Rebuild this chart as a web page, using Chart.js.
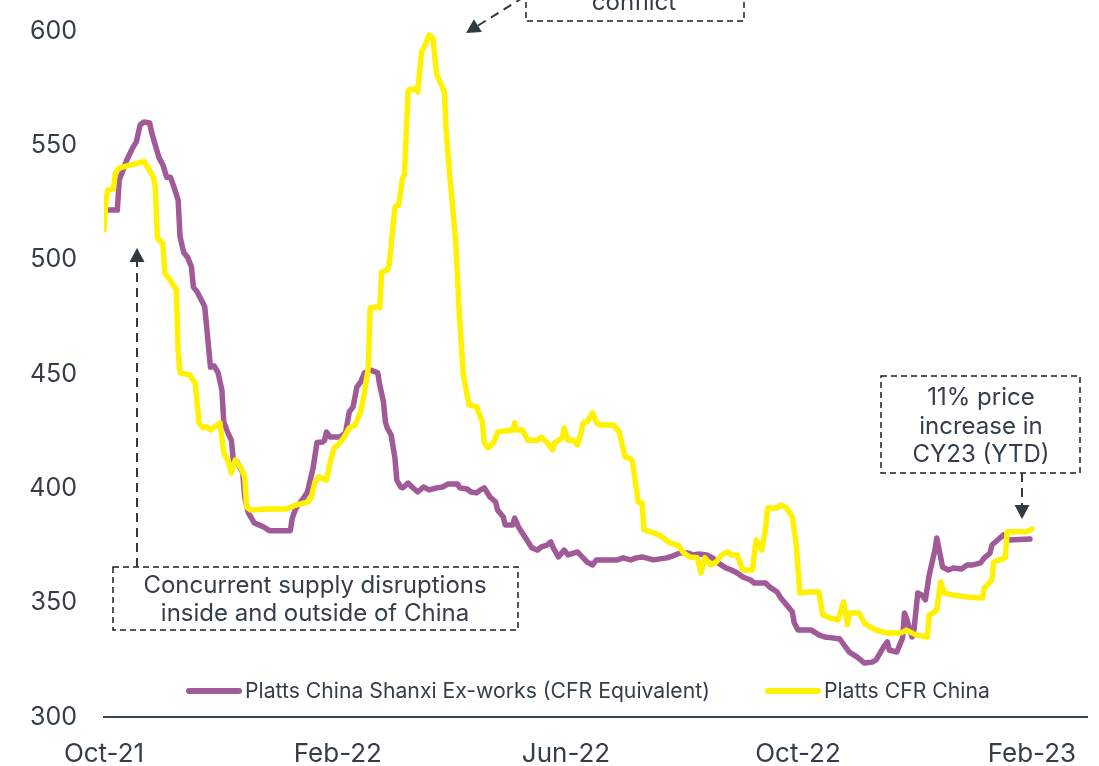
<!DOCTYPE html>
<html>
<head>
<meta charset="utf-8">
<script src="https://cdn.jsdelivr.net/npm/chart.js@4.4.1/dist/chart.umd.min.js"></script>
<style>
  html, body { margin: 0; padding: 0; background: #fff; }
  #wrap { width: 1099px; height: 766px; }
</style>
</head>
<body>
<div id="wrap"><canvas id="coalChart" width="1099" height="766"></canvas></div>
<script>
// days counted from 1 Oct 2021
const tickDays = [0, 123, 243, 365, 488];
const tickLabels = ['Oct-21', 'Feb-22', 'Jun-22', 'Oct-22', 'Feb-23'];

const shanxiDays = [0, 7, 8, 9, 12, 15, 17, 19, 21, 24, 25, 27, 29, 31, 33, 35, 37, 39, 40, 42, 44, 46, 47, 49, 52, 53, 54, 56, 58, 60, 62, 63, 65, 67, 68, 70, 73, 74, 76, 79, 84, 87, 98, 99, 101, 105, 107, 110, 112, 115, 116, 117, 119, 124, 127, 129, 131, 133, 135, 137, 140, 144, 145, 147, 148, 149, 151, 153, 154, 156, 157, 160, 162, 165, 168, 171, 175, 178, 181, 186, 187, 191, 193, 196, 198, 200, 203, 206, 207, 210, 211, 215, 216, 218, 220, 223, 225, 228, 230, 233, 235, 236, 239, 242, 244, 247, 249, 252, 254, 257, 259, 270, 273, 277, 280, 283, 289, 296, 299, 303, 307, 310, 313, 317, 320, 323, 327, 330, 333, 336, 340, 342, 348, 350, 354, 356, 359, 362, 363, 365, 372, 376, 379, 383, 387, 390, 392, 396, 400, 404, 406, 410, 412, 413, 417, 420, 421, 422, 425, 426, 428, 430, 432, 434, 437, 438, 440, 441, 444, 447, 451, 454, 457, 461, 463, 466, 467, 470, 473, 476, 487];
const shanxiPrices = [521.7, 521.7, 534.8, 537, 543.6, 548.8, 551.5, 558.9, 560.2, 559.8, 555.8, 550, 544.5, 541.4, 536, 536, 531.3, 526, 510, 503, 501, 496.8, 488, 485.9, 481, 479.3, 470.5, 453, 453.5, 450.5, 443, 429, 424.6, 421, 412.4, 411.5, 406.7, 396.2, 389.2, 384.9, 383.1, 381.5, 381.5, 387, 391.4, 395.8, 398.4, 409, 420, 420.3, 421, 424.6, 422.4, 422.4, 424.2, 433.4, 435.6, 444.3, 446.5, 450.5, 451.8, 450.5, 445.2, 437.8, 429, 426.4, 423.3, 413.3, 403.6, 400.6, 400.2, 402.3, 400.6, 398.4, 400.6, 399.3, 400.2, 400.6, 401.9, 401.9, 400.2, 399.7, 398.4, 398, 399.3, 400.2, 396.2, 394, 390.5, 387.5, 384, 384, 387, 383.1, 380.5, 376.6, 374, 373, 374.4, 375.2, 376.6, 374.4, 370, 373, 370.9, 371.7, 372.2, 369.6, 367.8, 366.5, 368.7, 368.7, 369.6, 368.7, 369.6, 370, 368.7, 369.6, 370.4, 371.7, 371.7, 370.9, 371.3, 370.9, 369.6, 367.4, 365.2, 364.3, 363, 361.2, 359.9, 358.6, 358.6, 356.9, 354.7, 352, 349, 346, 341.2, 338, 338, 335.9, 335, 334.6, 334.1, 330.6, 328.4, 326.3, 323.6, 324, 324.9, 330.6, 332.8, 329.3, 328.4, 334.6, 345.5, 343.3, 335, 338, 354.2, 353.4, 351.2, 362.1, 373, 378.3, 370, 365.6, 364.3, 365.2, 364.7, 366.5, 366.5, 367.4, 369.6, 371.7, 375.2, 377.4, 379.6, 377.4, 377.8];

const cfrDays = [0, 1, 2, 5, 6, 8, 12, 17, 21, 24, 26, 27, 28, 29, 31, 32, 34, 38, 39, 40, 45, 48, 50, 52, 54, 56, 61, 63, 65, 67, 69, 72, 74, 75, 77, 86, 96, 101, 107, 109, 111, 113, 117, 119, 121, 123, 126, 129, 132, 135, 137, 139, 140, 144, 145, 146, 149, 150, 153, 155, 157, 158, 160, 164, 165, 167, 169, 171, 173, 175, 178, 179, 180, 182, 185, 187, 189, 191, 192, 196, 199, 200, 202, 205, 207, 215, 216, 217, 220, 223, 228, 230, 233, 236, 237, 241, 242, 244, 247, 249, 251, 252, 254, 257, 259, 261, 268, 271, 274, 277, 278, 281, 283, 284, 289, 292, 298, 302, 305, 308, 312, 314, 316, 319, 322, 325, 328, 330, 333, 336, 341, 343, 346, 348, 349, 354, 356, 359, 362, 364, 366, 370, 376, 378, 382, 386, 389, 391, 392, 397, 400, 403, 406, 412, 419, 422, 427, 433, 434, 436, 438, 440, 442, 446, 454, 462, 463, 466, 467, 468, 471, 474, 475, 485, 488];
const cfrPrices = [513, 526, 530.5, 531, 538, 540, 541, 542, 543, 539, 536, 532, 510, 508.6, 507, 494, 492, 487, 460.5, 450.5, 449.6, 446, 428.6, 426.4, 427, 425.5, 428.6, 415.5, 412.4, 406.7, 412.4, 409, 405, 392, 390.5, 391, 391, 392.7, 394, 395.8, 402.8, 405, 403.6, 411.5, 417.6, 419, 422, 426.4, 427.7, 433.4, 442, 452.6, 478.9, 479.3, 478.9, 494.6, 495.5, 497.7, 523, 524, 535.7, 537, 574, 575, 573.3, 590.8, 594, 598.3, 597, 580.8, 575.5, 573.3, 555.8, 535.7, 507.7, 474.5, 449.6, 440.8, 436.5, 435.6, 429, 420, 417.7, 420, 424.6, 425.5, 428.6, 425.5, 425.5, 421, 421, 422.4, 420, 416.8, 420, 422, 426.4, 421, 421, 419, 424.6, 428.6, 429, 433, 428.6, 427.7, 427.7, 424.6, 413.7, 413, 411.5, 394, 393.6, 381.8, 380.5, 379.6, 376, 375, 371.7, 370, 369.6, 363, 369.6, 366.5, 367.8, 370.9, 372.2, 370.9, 370.9, 364.3, 364.3, 377.4, 373, 382.7, 391.4, 391.4, 392.7, 391.4, 387.5, 376, 354.2, 354.7, 354.7, 344.6, 343.3, 342.4, 350.3, 340.3, 345.5, 345.5, 341, 339.4, 338, 336.7, 336.7, 338, 335.9, 335, 344.6, 345.5, 346.8, 359, 354.2, 353.4, 352.5, 352, 356.4, 359, 360, 367.8, 368.7, 369.6, 381, 381, 382.2];

const seriesNames = ['Platts China Shanxi Ex-works (CFR Equivalent)', 'Platts CFR China'];
const seriesColors = ['#a05a98', '#fff200'];

const textColor = '#333e48';
const fontFamily = "Inter, 'Open Sans', sans-serif";

function toPoints(days, prices) {
  return days.map((d, i) => ({ x: d, y: prices[i] }));
}

// dashed callout boxes with arrows
const callouts = {
  id: 'callouts',
  afterDraw(chart) {
    const ctx = chart.ctx;
    ctx.save();

    function box(x1, y1, x2, y2) {
      ctx.setLineDash([6, 4]);
      ctx.lineWidth = 1.5;
      ctx.strokeStyle = '#1e1e1e';
      ctx.strokeRect(x1, y1, x2 - x1, y2 - y1);
    }
    function lines(cx, ys, texts) {
      ctx.setLineDash([]);
      ctx.fillStyle = textColor;
      ctx.font = '24px ' + fontFamily;
      ctx.textAlign = 'center';
      ctx.textBaseline = 'middle';
      texts.forEach((t, i) => ctx.fillText(t, cx, ys[i]));
    }
    function arrow(x1, y1, x2, y2) {
      const ang = Math.atan2(y2 - y1, x2 - x1);
      const headLen = 14, headW = 7.5;
      const bx = x2 - Math.cos(ang) * headLen;
      const by = y2 - Math.sin(ang) * headLen;
      ctx.setLineDash([9, 6]);
      ctx.lineWidth = 2;
      ctx.strokeStyle = '#2f3b40';
      ctx.beginPath();
      ctx.moveTo(x1, y1);
      ctx.lineTo(bx, by);
      ctx.stroke();
      ctx.setLineDash([]);
      ctx.fillStyle = '#2f3b40';
      ctx.beginPath();
      ctx.moveTo(x2, y2);
      ctx.lineTo(bx + Math.sin(ang) * headW, by - Math.cos(ang) * headW);
      ctx.lineTo(bx - Math.sin(ang) * headW, by + Math.cos(ang) * headW);
      ctx.closePath();
      ctx.fill();
    }

    // left box
    box(113, 567, 518, 630);
    lines(315, [586, 614], ['Concurrent supply disruptions', 'inside and outside of China']);
    arrow(137, 567, 137, 248);

    // right box
    box(881, 376, 1080, 473);
    lines(981, [398, 427, 455], ['11% price', 'increase in', 'CY23 (YTD)']);
    arrow(1022, 473, 1022, 519);

    // top box, running off the top edge
    box(526, -70, 744, 21);
    lines(634, [3], ['conflict']);
    arrow(524, -3, 466, 33);

    ctx.restore();
  }
};

// legend drawn inside the plot, just above the axis
const innerLegend = {
  id: 'innerLegend',
  afterDraw(chart) {
    const ctx = chart.ctx;
    ctx.save();
    ctx.font = '21.2px ' + fontFamily;
    ctx.textBaseline = 'middle';
    ctx.textAlign = 'left';
    const y = 691;
    let x = 189;
    chart.data.datasets.forEach((ds, i) => {
      ctx.strokeStyle = ds.borderColor;
      ctx.lineWidth = 6;
      ctx.lineCap = 'round';
      ctx.beginPath();
      ctx.moveTo(x, y);
      ctx.lineTo(x + 50, y);
      ctx.stroke();
      ctx.fillStyle = textColor;
      ctx.fillText(ds.label, x + 56, y + 1);
      x += 56 + ctx.measureText(ds.label).width + 58;
    });
    ctx.restore();
  }
};

new Chart(document.getElementById('coalChart'), {
  type: 'line',
  data: {
    datasets: [{
      label: seriesNames[0],
      data: toPoints(shanxiDays, shanxiPrices),
      borderColor: seriesColors[0],
      order: 1
    }, {
      label: seriesNames[1],
      data: toPoints(cfrDays, cfrPrices),
      borderColor: seriesColors[1],
      order: 0
    }]
  },
  options: {
    responsive: false,
    animation: false,
    layout: { autoPadding: false, padding: { top: 31, right: 12, left: 0, bottom: 0 } },
    elements: {
      point: { radius: 0 },
      line: { borderWidth: 5.5, tension: 0, borderJoinStyle: 'round', borderCapStyle: 'round' }
    },
    plugins: {
      legend: { display: false },
      tooltip: { enabled: false }
    },
    scales: {
      x: {
        type: 'linear',
        min: 0,
        max: 517,
        grid: { display: false, drawTicks: false },
        border: { display: true, color: '#37464c', width: 2 },
        afterBuildTicks(scale) {
          scale.ticks = tickDays.map(v => ({ value: v }));
        },
        afterFit(scale) { scale.height = 49; },
        ticks: {
          autoSkip: false,
          maxRotation: 0,
          padding: 22,
          color: textColor,
          font: { family: fontFamily, size: 26 },
          callback: (v) => tickLabels[tickDays.indexOf(v)]
        }
      },
      y: {
        min: 300,
        max: 600,
        // invisible tick marks keep the labels away from the plot
        grid: { display: false, drawTicks: true, tickLength: 27 },
        border: { display: false },
        afterFit(scale) { scale.width = 104; },
        ticks: {
          stepSize: 50,
          padding: 0,
          color: textColor,
          font: { family: fontFamily, size: 25 }
        }
      }
    }
  },
  plugins: [callouts, innerLegend]
});
</script>
</body>
</html>
